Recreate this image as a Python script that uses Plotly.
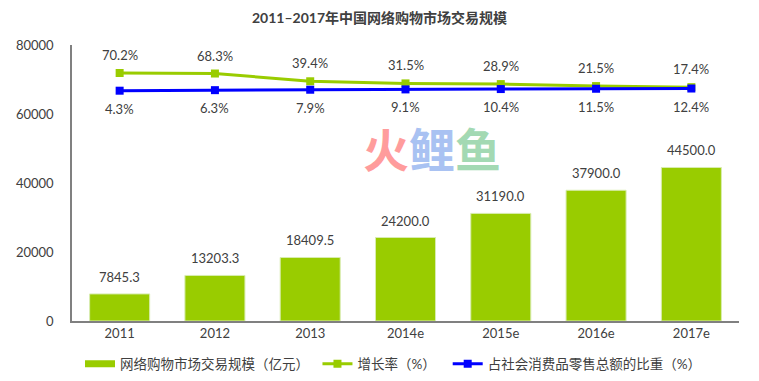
import plotly.graph_objects as go

years = ["2011", "2012", "2013", "2014e", "2015e", "2016e", "2017e"]
scale = [7845.3, 13203.3, 18409.5, 24200.0, 31190.0, 37900.0, 44500.0]
growth = [70.2, 68.3, 39.4, 31.5, 28.9, 21.5, 17.4]
share = [4.3, 6.3, 7.9, 9.1, 10.4, 11.5, 12.4]

FONT = "Lato, 'Noto Sans CJK SC', sans-serif"
TXT = "#404040"
GREEN = "#99cc00"
BLUE = "#0000ff"
NB = "\u00a0"

pl, pr, pt, pb = 72, 20, 45, 60
W, H = 759, 381

fig = go.Figure()
fig.add_trace(go.Bar(
    x=years, y=scale, name="网络购物市场交易规模（亿元）", showlegend=False,
    marker=dict(color=GREEN, line=dict(color="#d8ecb0", width=1)),
    yaxis="y",
))
# legend entry for the bars (wide flat swatch as in the reference)
fig.add_trace(go.Scatter(
    x=[years[0]], y=[None], name="网络购物市场交易规模（亿元）" + NB, mode="lines",
    line=dict(color=GREEN, width=7), yaxis="y",
))
fig.add_trace(go.Scatter(
    x=years, y=growth, name="增长率（%）" + NB * 2, mode="lines+markers",
    line=dict(color=GREEN, width=3), marker=dict(symbol="square", size=8, color=GREEN),
    yaxis="y2",
))
fig.add_trace(go.Scatter(
    x=years, y=share, name="占社会消费品零售总额的比重（%）", mode="lines+markers",
    line=dict(color=BLUE, width=3), marker=dict(symbol="square", size=8, color=BLUE),
    yaxis="y2",
))

ann = []
for i, v in enumerate(scale):
    ann.append(dict(x=i, y=v, xref="x", yref="y", text=f"{v:.1f}", showarrow=False,
                    yanchor="bottom", yshift=7, font=dict(size=13, color=TXT, family=FONT)))
for i, v in enumerate(growth):
    ann.append(dict(x=i, y=v, xref="x", yref="y2", text=f"{v:.1f}%", showarrow=False,
                    yanchor="middle", yshift=18, font=dict(size=13, color=TXT, family=FONT)))
for i, v in enumerate(share):
    ann.append(dict(x=i, y=v, xref="x", yref="y2", text=f"{v:.1f}%", showarrow=False,
                    yanchor="middle", yshift=-18, font=dict(size=13, color=TXT, family=FONT)))

ann.append(dict(
    x=(432 - pl) / (W - pl - pr), y=(H - pb - 147) / (H - pt - pb),
    xref="paper", yref="paper", showarrow=False,
    text="<span style='color:#ff9c9c'>火</span><span style='color:#a9c2f2'>鲤</span><span style='color:#a3d9b3'>鱼</span>",
    font=dict(size=46, family="'Noto Sans CJK SC'", weight="bold"),
))

fig.update_layout(
    width=W, height=H,
    margin=dict(l=pl, r=pr, t=pt, b=pb, autoexpand=False),
    paper_bgcolor="white", plot_bgcolor="white",
    title=dict(text="<b>2011–2017年中国网络购物市场交易规模</b>", x=0.5, xanchor="center",
               xref="container", yref="container", y=(H - 18) / H, yanchor="middle",
               font=dict(size=14, color=TXT, family=FONT)),
    bargap=0.37,
    xaxis=dict(type="category", range=[-0.5, len(years) - 0.5], showline=True,
               linecolor="#808080", linewidth=1.5, ticks="", automargin=False,
               tickfont=dict(size=13, color=TXT, family=FONT), showgrid=False),
    yaxis=dict(range=[0, 80000], dtick=20000, tickformat="d", showline=True, linecolor="#808080",
               linewidth=1.5, showgrid=False, zeroline=False, automargin=False,
               tickfont=dict(size=13, color=TXT, family=FONT), ticks="", ticklabelstandoff=14),
    yaxis2=dict(range=[-854, 174.6], overlaying="y", side="right", visible=False),
    legend=dict(orientation="h", xref="container", yref="container",
                x=80 / W, xanchor="left", y=(H - 364) / H, yanchor="middle",
                font=dict(size=13.5, color=TXT, family=FONT), itemwidth=30,
                traceorder="normal", bgcolor="rgba(0,0,0,0)"),
    annotations=ann,
    showlegend=True,
)

fig.write_html("out.html", config={"displayModeBar": False},
               post_script="document.body.style.margin='0';document.body.style.overflow='hidden';")
